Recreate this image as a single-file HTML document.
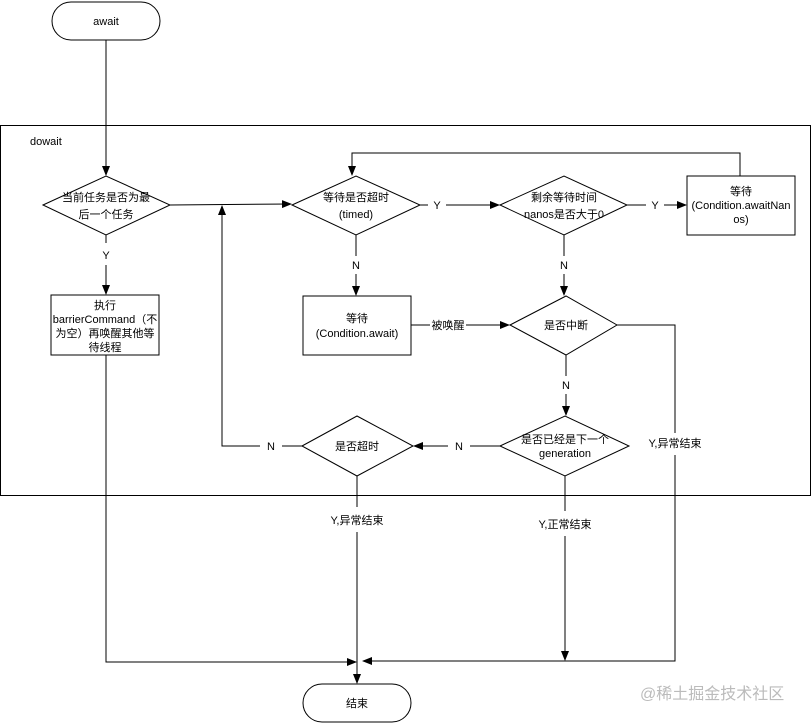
<!DOCTYPE html>
<html><head><meta charset="utf-8"><style>
html,body{margin:0;padding:0;background:#fff;}
svg{display:block;}
text{font-family:"Liberation Sans","Noto Sans CJK SC",sans-serif;font-size:11px;fill:#000;}
</style></head><body>
<svg width="812" height="724" viewBox="0 0 812 724" xmlns="http://www.w3.org/2000/svg">
<defs><marker id="a" markerWidth="10" markerHeight="8" refX="9" refY="4" orient="auto" markerUnits="userSpaceOnUse"><path d="M0,0 L10,4 L0,8 z" fill="#000"/></marker></defs>
<g fill="none" stroke="#000" stroke-width="1">
<rect x="52" y="2" width="108" height="38" rx="19"/>
<rect x="0.5" y="125.5" width="810" height="370"/>
<rect x="303" y="684" width="108" height="38" rx="19"/>
<polygon points="43,205 106,176 170,205 106,235"/>
<polygon points="292,205 356,176 420,205 356,235"/>
<polygon points="500,205 564,176 627,205 564,235"/>
<polygon points="510,325 566,296 617,325 566,355"/>
<polygon points="500,446 565,416 629,446 565,476"/>
<polygon points="302,446 357,416 413,446 357,476"/>
<rect x="51" y="295" width="108" height="60"/>
<rect x="303" y="296" width="108" height="59"/>
<rect x="687" y="176" width="108" height="59"/>
<path d="M106,40 V175" marker-end="url(#a)"/>
<path d="M106,235 V243 M106,265 V294" marker-end="url(#a)"/>
<path d="M170,205 L291,204" marker-end="url(#a)"/>
<path d="M420,205 H428 M446,205 H499" marker-end="url(#a)"/>
<path d="M627,205 H646 M664,205 H686" marker-end="url(#a)"/>
<path d="M740,176 V153 H352 V175" marker-end="url(#a)"/>
<path d="M356,235 V256 M356,274 V295" marker-end="url(#a)"/>
<path d="M564,235 V256 M564,274 V295" marker-end="url(#a)"/>
<path d="M411,325 H430 M466,325 H509" marker-end="url(#a)"/>
<path d="M566,355 V376 M566,394 V415" marker-end="url(#a)"/>
<path d="M500,446 H470 M448,446 H414" marker-end="url(#a)"/>
<path d="M302,446 H282 M260,446 H222 V206" marker-end="url(#a)"/>
<path d="M617,325 H675 V433 M675,455 V661 H363" marker-end="url(#a)"/>
<path d="M565,476 V511 M565,536 V660" marker-end="url(#a)"/>
<path d="M357,476 V507 M357,532 V683" marker-end="url(#a)"/>
<path d="M106,355 V662 H356" marker-end="url(#a)"/>
</g>
<g text-anchor="middle">
<text x="106" y="25">await</text>
<text x="357" y="707">结束</text>
<text x="106" y="201">当前任务是否为最</text><text x="106" y="218">后一个任务</text>
<text x="356" y="201">等待是否超时</text><text x="356" y="218">(timed)</text>
<text x="564" y="201">剩余等待时间</text><text x="564" y="218">nanos是否大于0</text>
<text x="741" y="195">等待</text><text x="741" y="209">(Condition.awaitNan</text><text x="741" y="223">os)</text>
<text x="105" y="309">执行</text><text x="105" y="323">barrierCommand（不</text><text x="105" y="337">为空）再唤醒其他等</text><text x="105" y="351">待线程</text>
<text x="357" y="322">等待</text><text x="357" y="337">(Condition.await)</text>
<text x="566" y="329">是否中断</text>
<text x="565" y="443">是否已经是下一个</text><text x="565" y="457">generation</text>
<text x="357" y="450">是否超时</text>
<text x="106" y="259">Y</text>
<text x="437" y="209">Y</text>
<text x="655" y="209">Y</text>
<text x="356" y="269">N</text>
<text x="564" y="269">N</text>
<text x="566" y="389">N</text>
<text x="459" y="450">N</text>
<text x="271" y="450">N</text>
<text x="448" y="329">被唤醒</text>
<text x="675" y="447">Y,异常结束</text>
<text x="357" y="524">Y,异常结束</text>
<text x="565" y="528">Y,正常结束</text>
</g>
<text x="30" y="145">dowait</text>
<text x="640" y="699" style="font-size:16px;fill:#bbb">@稀土掘金技术社区</text>
</svg>
</body></html>
